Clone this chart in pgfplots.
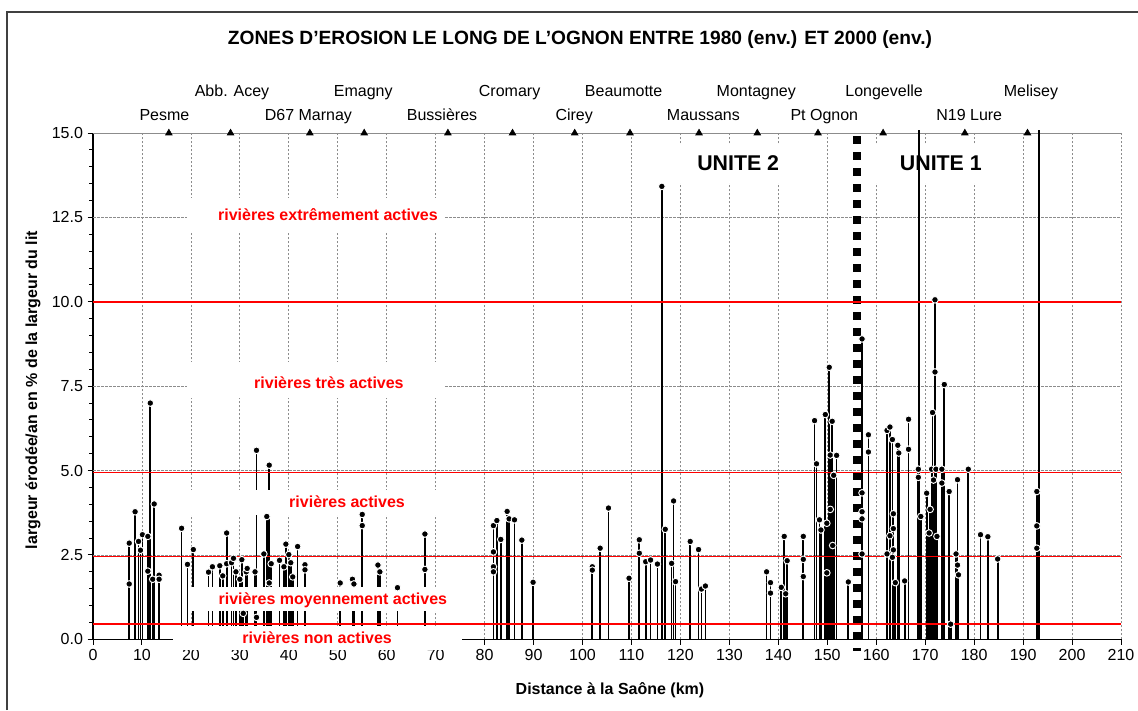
\documentclass[border=0pt]{standalone}
\usepackage{fontspec}
\setmainfont{Liberation Sans}
\usepackage{pgfplots}
\usepackage{pgfplotstable}
\pgfplotsset{compat=1.18}
\definecolor{gridgray}{RGB}{140,140,140}
\definecolor{framegray}{RGB}{64,64,64}
\definecolor{limitred}{RGB}{255,0,0}
\pgfplotstableread{
x y
7.4 2.85
7.4 1.64
8.6 3.78
9.3 2.90
9.7 2.64
10.1 3.10
11.2 3.05
11.2 2.02
11.7 7.00
12.2 1.78
12.5 4.01
13.5 1.90
13.5 1.78
18.1 3.29
19.3 2.22
20.5 2.66
23.6 1.99
24.4 2.15
25.9 2.18
26.5 1.88
27.3 3.15
27.3 2.24
28.3 2.27
28.7 2.40
29.2 2.00
30.0 1.78
30.4 2.36
30.7 0.77
31.3 2.00
31.5 2.10
33.1 2.00
33.4 5.60
33.4 0.65
34.9 2.53
35.5 3.64
36.0 5.16
36.0 1.67
36.4 2.24
38.1 2.34
39.0 2.15
39.4 2.82
40.0 2.51
40.4 2.27
40.8 1.85
41.8 2.75
43.3 2.21
43.3 2.06
50.5 1.67
53.0 1.78
53.3 1.64
55.0 3.70
55.0 3.37
58.2 2.20
58.6 2.00
62.2 1.53
67.8 3.12
67.8 2.07
81.8 3.37
81.8 2.59
81.8 2.15
81.8 2.00
82.5 3.52
83.3 2.96
84.6 3.79
85.0 3.57
86.1 3.54
87.6 2.94
89.9 1.69
102.0 2.15
102.0 2.05
103.6 2.70
105.3 3.89
109.5 1.81
111.6 2.95
111.6 2.55
112.9 2.30
113.9 2.35
115.3 2.23
116.2 13.42
116.9 3.26
118.2 2.25
118.6 4.10
119.0 1.71
122.0 2.90
123.7 2.66
124.3 1.49
125.1 1.58
137.6 2.00
138.4 1.68
138.4 1.37
140.6 1.54
141.2 3.05
141.5 1.35
141.8 2.33
145.1 3.05
145.1 2.37
145.1 1.86
147.4 6.48
147.8 5.20
148.4 3.54
148.7 3.24
149.6 6.66
149.9 3.44
149.9 1.97
150.4 8.06
150.6 5.46
150.6 3.85
151.0 6.46
151.1 2.78
151.3 4.86
151.9 5.45
154.3 1.70
157.1 8.90
157.1 4.34
157.1 3.78
157.1 3.57
157.1 2.53
158.4 6.06
158.4 5.55
162.2 6.19
162.2 2.53
162.8 6.29
162.8 3.07
163.3 5.92
163.3 2.43
163.5 3.72
163.5 3.28
163.5 2.65
163.9 1.68
164.4 5.75
164.6 5.52
165.8 1.73
166.6 6.52
166.6 5.63
168.6 5.04
168.6 4.80
169.1 3.64
170.3 4.33
170.8 3.15
171.0 3.85
171.3 5.04
171.5 6.72
171.7 4.72
172.0 10.06
172.0 7.92
172.2 5.04
172.4 3.05
173.4 5.04
173.4 4.63
173.9 7.55
174.9 4.38
175.2 0.45
176.3 2.53
176.6 4.73
176.6 2.20
176.8 1.91
178.8 5.04
181.3 3.10
182.8 3.04
184.8 2.38
192.8 4.38
192.8 3.36
192.8 2.70
}\erosion
\pgfplotstableread{
x y
168.8 15.1
193.3 15.1
}\tall
\pgfplotstableread{
x y
15.5 15
28.1 15
44.3 15
55.4 15
72.5 15
85.7 15
98.4 15
109.7 15
123.8 15
135.7 15
148.1 15
161.4 15
178.1 15
190.9 15
}\sites
\pgfplotstableread{
x y
0 10.0
210 10.0
}\limitten
\begin{document}
\begin{tikzpicture}[x=1pt,y=1pt]
\useasboundingbox (0,0) rectangle (853.5,532.5);
\draw[framegray, line width=1pt] (5.25,0) -- (5.25,523.5) -- (853.5,523.5);
\node[font=\fontsize{14.4}{16}\selectfont\bfseries] at (435,503) {ZONES D'EROSION LE LONG DE L'OGNON ENTRE 1980 (env.) ET 2000 (env.)};
\begin{axis}[
  at={(69.75pt,53pt)}, anchor=south west,
  scale only axis, width=771pt, height=379.7pt,
  xmin=0, xmax=210, ymin=0, ymax=15,
  clip=false, axis on top=false,
  axis x line*=bottom, axis y line*=left,
  axis line style={-, black, line width=0.9pt},
  every outer x axis line/.append style={-},
  every outer y axis line/.append style={-},
  xtick={0,10,...,210}, ytick={0,2.5,5,7.5,10,12.5,15},
  minor y tick num=4,
  tick align=outside, major tick length=4pt, minor tick length=3pt,
  tick style={black, line width=0.75pt},
  xmajorgrids=true, ymajorgrids=false,
  major grid style={gridgray, line width=0.6pt, dash pattern=on 2pt off 1pt},
  tick label style={font=\fontsize{12}{14}\selectfont},
  /pgf/number format/assume math mode=true,
  yticklabel style={/pgf/number format/.cd, fixed, fixed zerofill, precision=1},
  xticklabel style={/pgf/number format/.cd, fixed, precision=0},
]
% horizontal grid
\addplot[gridgray, line width=0.6pt, dash pattern=on 2pt off 1pt] coordinates {(0,2.5) (210,2.5)};
\addplot[gridgray, line width=0.6pt, dash pattern=on 2pt off 1pt] coordinates {(0,5) (210,5)};
\addplot[gridgray, line width=0.6pt, dash pattern=on 2pt off 1pt] coordinates {(0,7.5) (210,7.5)};
\addplot[gridgray, line width=0.6pt, dash pattern=on 2pt off 1pt] coordinates {(0,12.5) (210,12.5)};
\addplot[gridgray, line width=0.75pt] coordinates {(0,15) (210,15)};
% UNITE boxes (under data)
\fill[white] (axis cs:117.5,13.52) rectangle (axis cs:142.4,14.65);
\fill[white] (axis cs:158.7,13.52) rectangle (axis cs:185.3,14.65);
\node[font=\fontsize{16}{18}\selectfont\bfseries] at (axis cs:131.8,14.11) {UNITE 2};
\node[font=\fontsize{16}{18}\selectfont\bfseries] at (axis cs:173.2,14.11) {UNITE 1};
% dashed limit between units
\addplot[black, line width=6.2pt, dash pattern=on 5.5pt off 6.5pt, dash phase=9.45pt] coordinates {(156.1,15) (156.1,-0.35)};
% stems
\addplot[ycomb, black, line width=1.3pt, mark=none] table[x=x,y=y]{\erosion};
\addplot[ycomb, black, line width=1.3pt, mark=none] table[x=x,y=y]{\tall};
% class limits
\addplot[limitred, line width=1.1pt] coordinates {(0,0.45) (210,0.45)};
\addplot[limitred, line width=1.1pt] coordinates {(0,2.45) (210,2.45)};
\addplot[limitred, line width=1.1pt] coordinates {(0,4.95) (210,4.95)};
\addplot[limitred, line width=1.1pt] table[x=x,y=y]{\limitten};
% dots
\addplot[only marks, mark=*, mark size=2.5pt, mark options={fill=black, draw=white, line width=0.7pt}] table[x=x,y=y]{\erosion};
% class labels
\fill[white] (axis cs:19.2,12.07) rectangle (axis cs:71.9,13.08);
\fill[white] (axis cs:19.2,7.15) rectangle (axis cs:71.9,8.22);
\fill[white] (axis cs:19.2,3.69) rectangle (axis cs:71.9,4.43);
\fill[white] (axis cs:19.4,0.84) rectangle (axis cs:75.4,1.55);
\fill[white] (axis cs:16.3,-0.32) rectangle (axis cs:75.4,0.39);
\node[text=limitred, font=\fontsize{12}{14}\selectfont\bfseries] at (axis cs:48.0,12.58) {rivières extrêmement actives};
\node[text=limitred, font=\fontsize{12}{14}\selectfont\bfseries] at (axis cs:48.2,7.6) {rivières très actives};
\node[text=limitred, font=\fontsize{12}{14}\selectfont\bfseries] at (axis cs:51.9,4.07) {rivières actives};
\node[text=limitred, font=\fontsize{12}{14}\selectfont\bfseries] at (axis cs:49.0,1.17) {rivières moyennement actives};
\node[text=limitred, font=\fontsize{12}{14}\selectfont\bfseries] at (axis cs:45.8,0.04) {rivières non actives};
% sites
\addplot[only marks, mark=triangle*, mark size=2.9pt, black] table[x=x,y=y]{\sites};
\begin{scope}[every node/.style={font=\fontsize{12}{14}\selectfont, anchor=base}]
\node at (axis cs:14.6,15.37) {Pesme};
\node at (axis cs:28.4,16.09) {Abb. Acey};
\node at (axis cs:44.0,15.37) {D67 Marnay};
\node at (axis cs:55.2,16.09) {Emagny};
\node at (axis cs:71.3,15.37) {Bussières};
\node at (axis cs:85.1,16.09) {Cromary};
\node at (axis cs:98.3,15.37) {Cirey};
\node at (axis cs:108.4,16.09) {Beaumotte};
\node at (axis cs:124.7,15.37) {Maussans};
\node at (axis cs:135.5,16.09) {Montagney};
\node at (axis cs:149.4,15.37) {Pt Ognon};
\node at (axis cs:161.6,16.09) {Longevelle};
\node at (axis cs:179.0,15.37) {N19 Lure};
\node at (axis cs:191.6,16.09) {Melisey};
\end{scope}
\end{axis}
\node[rotate=90, font=\fontsize{12}{14}\selectfont\bfseries] at (24.75,240) {largeur érodée/an en \% de la largeur du lit};
\node[font=\fontsize{12}{14}\selectfont\bfseries] at (457.5,15) {Distance à la Saône (km)};
\end{tikzpicture}
\end{document}
